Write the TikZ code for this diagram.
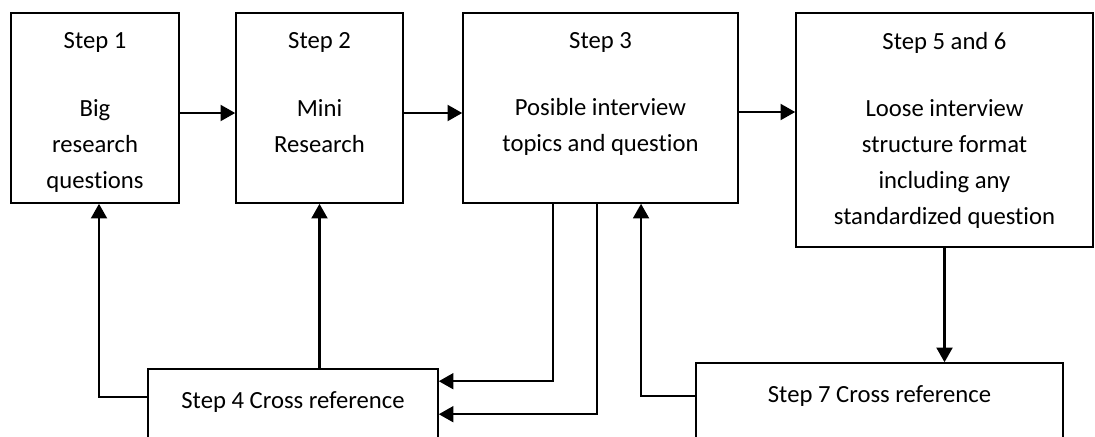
\documentclass[tikz,border=0pt]{standalone}
\usepackage{fontspec}
\setmainfont{Carlito}[Ligatures=NoCommon]
\usetikzlibrary{arrows.meta,positioning,calc}

\begin{document}
\begin{tikzpicture}[x=0.75pt,y=-0.75pt,
	stepbox/.style={draw,line width=1.2pt,inner sep=0pt},
	steptext/.style={align=center,inner sep=0pt,font=\fontsize{18.5}{27}\selectfont},
	flow/.style={line width=1.6pt,-{Triangle[length=11pt,width=12pt]}}]

	\useasboundingbox (0,0) rectangle (1095,436);

	\node[stepbox,minimum width=126pt,minimum height=142.5pt] (boxone) at (95,108) {};
	\node[stepbox,minimum width=125.25pt,minimum height=142.5pt] (boxtwo) at (319.5,108) {};
	\node[stepbox,minimum width=206.25pt,minimum height=142.5pt] (boxthree) at (600.5,108) {};
	\node[stepbox,minimum width=222.75pt,minimum height=175.5pt] (boxfivesix) at (944.5,130) {};
	\node[stepbox,minimum width=217.5pt,minimum height=75pt] (stepfour) at (293,419) {};
	\node[stepbox,minimum width=275.25pt,minimum height=75pt] (stepseven) at (879.5,413) {};

	\node[steptext,below=15pt of boxone.north] (textone) {Step 1\\[24pt]Big\\research\\questions};
	\node[steptext,below=15pt of boxtwo.north] (texttwo) {Step 2\\[24pt]Mini\\Research};
	\node[steptext,below=15pt of boxthree.north] (textthree) {Step 3\\[23pt]Posible interview\\topics and question};
	\node[steptext,below=15pt of boxfivesix.north] (textfivesix) {Step 5 and 6\\[23pt]Loose interview\\structure format\\including any\\standardized question};
	\node[steptext,below=17pt of stepfour.north] (textfour) {Step 4 Cross reference};
	\node[steptext,below=17pt of stepseven.north] (textseven) {Step 7 Cross reference};

	%top row
	\draw[flow] ([yshift=-3.75pt]boxone.east) -- ([yshift=-3.75pt]boxtwo.west);
	\draw[flow] ([yshift=-3.75pt]boxtwo.east) -- ([yshift=-3.75pt]boxthree.west);
	\draw[flow] ([yshift=-3pt]boxthree.east) -- ([yshift=-3pt]boxthree.east -| boxfivesix.west);

	%back to step 4
	\draw[flow] ([xshift=-35.6pt]boxthree.south) |- ([yshift=-9.75pt]stepfour.north east);
	\draw[flow] ([xshift=-2.6pt]boxthree.south) |- ([yshift=-34.5pt]stepfour.north east);
	\draw[flow] (stepfour.north -| boxtwo.south) -- (boxtwo.south);
	\draw[flow] ([yshift=16.5pt]stepfour.west) -| ([xshift=3pt]boxone.south);

	%step 7
	\draw[flow] (boxfivesix.south) -- (boxfivesix.south |- stepseven.north);
	\draw[flow] ([yshift=-25.5pt]stepseven.north west) -| ([xshift=30.4pt]boxthree.south);

\end{tikzpicture}
\end{document}
